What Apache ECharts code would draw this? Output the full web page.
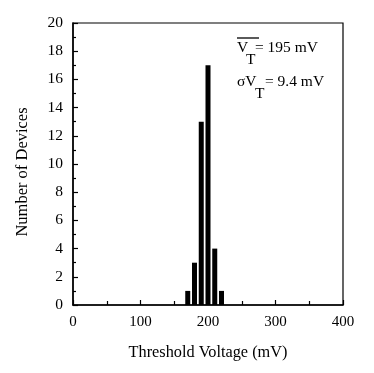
<!DOCTYPE html>
<html>
<head>
<meta charset="utf-8">
<script src="https://cdn.jsdelivr.net/npm/echarts@6/dist/echarts.min.js"></script>
<style>
html,body{margin:0;padding:0;background:#fff;}
#main{width:374px;height:373px;}
</style>
</head>
<body>
<div id="main"></div>
<script>
// Data
const binCenters = [170, 180, 190, 200, 210, 220]; // Threshold voltage (mV)
const deviceCounts = [1, 3, 13, 17, 4, 1];          // Number of devices
const xTicks = [0, 100, 200, 300, 400];
const yTicks = [0, 2, 4, 6, 8, 10, 12, 14, 16, 18, 20];
const meanLabel = '= 195 mV';
const sigmaLabel = '= 9.4 mV';

const chart = echarts.init(document.getElementById('main'), null, {renderer: 'canvas'});
const FONT = 'Liberation Serif';

const option = {
  animation: false,
  backgroundColor: '#fff',
  grid: {left: 73, right: 31, top: 23, bottom: 68, show: true, borderColor: '#000', borderWidth: 1.2, backgroundColor: 'transparent'},
  xAxis: {
    type: 'value', min: xTicks[0], max: xTicks[xTicks.length - 1], interval: 100,
    name: 'Threshold Voltage (mV)', nameLocation: 'middle', nameGap: 40,
    nameTextStyle: {fontFamily: FONT, fontSize: 16.3, color: '#000'},
    axisLine: {show: true, lineStyle: {color: '#000', width: 1.5}},
    axisTick: {show: true, inside: true, length: 5, lineStyle: {color: '#000', width: 1.2}},
    minorTick: {show: true, splitNumber: 2, length: 4, lineStyle: {color: '#000', width: 1.2}},
    axisLabel: {fontFamily: FONT, fontSize: 15, color: '#000', margin: 10},
    splitLine: {show: false}
  },
  yAxis: {
    type: 'value', min: yTicks[0], max: yTicks[yTicks.length - 1], interval: 2,
    name: 'Number of Devices', nameLocation: 'middle', nameGap: 42,
    nameTextStyle: {fontFamily: FONT, fontSize: 16.5, color: '#000', padding: [0, 16, 0, 0]},
    axisLine: {show: true, lineStyle: {color: '#000', width: 1.5}},
    axisTick: {show: true, inside: true, length: 5, lineStyle: {color: '#000', width: 1.2}},
    minorTick: {show: true, splitNumber: 2, length: 3, lineStyle: {color: '#000', width: 1.2}},
    axisLabel: {fontFamily: FONT, fontSize: 15.5, color: '#000', margin: 10},
    splitLine: {show: false}
  },
  series: [{
    type: 'bar',
    data: binCenters.map((x, i) => [x, deviceCounts[i]]),
    barWidth: 5,
    itemStyle: {color: '#000'},
    silent: true
  }],
  graphic: [
    {type: 'line', shape: {x1: 237, y1: 38, x2: 259, y2: 38}, style: {stroke: '#000', lineWidth: 1.3}},
    {type: 'text', left: 237, top: 40, style: {text: 'V', font: '15.5px "Liberation Serif"', fill: '#000'}},
    {type: 'text', left: 246, top: 52, style: {text: 'T', font: '15.5px "Liberation Serif"', fill: '#000'}},
    {type: 'text', left: 255, top: 40, style: {text: meanLabel, font: '15.5px "Liberation Serif"', fill: '#000'}},
    {type: 'text', left: 237, top: 74, style: {text: 'σV', font: '15.5px "Liberation Serif"', fill: '#000'}},
    {type: 'text', left: 255, top: 86, style: {text: 'T', font: '15.5px "Liberation Serif"', fill: '#000'}},
    {type: 'text', left: 265, top: 74, style: {text: sigmaLabel, font: '15.5px "Liberation Serif"', fill: '#000'}}
  ]
};
chart.setOption(option);
</script>
</body>
</html>
